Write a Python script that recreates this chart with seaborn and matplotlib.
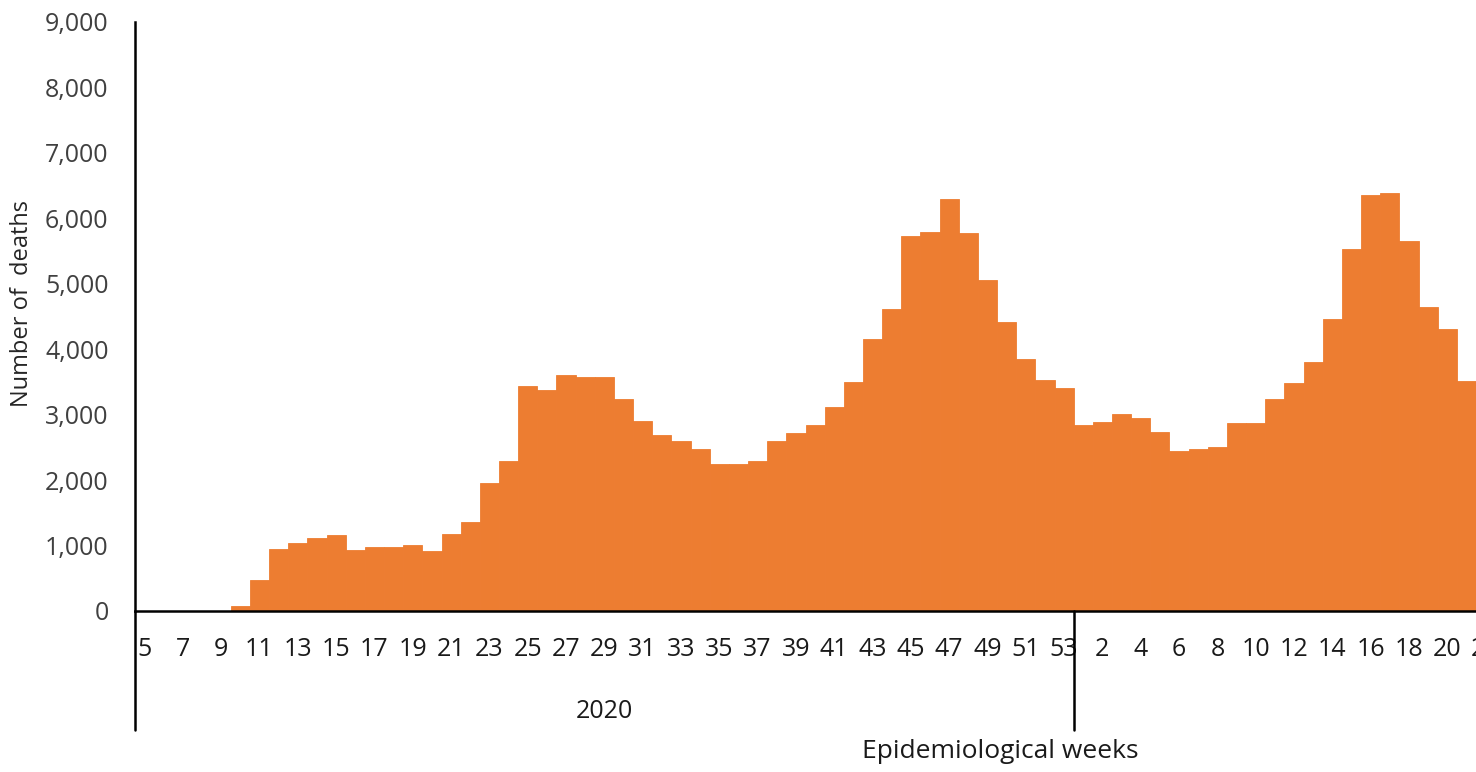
import matplotlib
matplotlib.use("Agg")
import matplotlib.pyplot as plt
import matplotlib.transforms as mtransforms
import seaborn as sns
import numpy as np
import pandas as pd


WEEKS_2020 = list(range(5, 54))
WEEKS_2021 = list(range(1, 22))
# axis categories run one week past the visible data (the chart is cut at the right)
AXIS_WEEKS = WEEKS_2020 + list(range(1, 23))

DEATHS_2020 = [
    0, 0, 0, 0, 0, 80, 475, 950, 1045, 1110,
    1157, 937, 983, 983, 1005, 915, 1177, 1353, 1961, 2297,
    3438, 3372, 3606, 3571, 3568, 3233, 2908, 2684, 2600, 2471,
    2248, 2248, 2295, 2603, 2715, 2842, 3122, 3500, 4157, 4620,
    5735, 5796, 6300, 5781, 5058, 4421, 3846, 3525, 3413,
]
DEATHS_2021 = [
    2842, 2883, 3010, 2954, 2730, 2450, 2471, 2511, 2868, 2868,
    3240, 3479, 3810, 4467, 5536, 6352, 6393, 5650, 4641, 4309,
    3520,
]
YEAR_LABEL = "2020"
ORANGE = "#ED7D31"

df = pd.DataFrame(
    {
        "pos": np.arange(len(DEATHS_2020) + len(DEATHS_2021)),
        "deaths": DEATHS_2020 + DEATHS_2021,
    }
)

sns.set_style("white")
plt.rcParams["font.family"] = ["Open Sans", "DejaVu Sans"]

fig = plt.figure(figsize=(14.76, 7.72), dpi=100)
n_axis = len(AXIS_WEEKS)
bar_px = 1341 / len(df)
ax = fig.add_axes([135 / 1476, 161 / 772, n_axis * bar_px / 1476, 589 / 772])

sns.barplot(
    data=df, x="pos", y="deaths", native_scale=True, width=1,
    color=ORANGE, saturation=1, edgecolor=ORANGE, linewidth=0.6, ax=ax,
)

ax.set_xlim(-0.5, n_axis - 0.5)
ax.set_ylim(0, 9000)
ax.set_yticks(np.arange(0, 9001, 1000))
ax.set_yticklabels([f"{v:,}" for v in range(0, 9001, 1000)])
ax.set_xticks(np.arange(0, n_axis, 2))
ax.set_xticklabels([str(w) for w in AXIS_WEEKS[::2]])
ax.tick_params(axis="y", length=0, pad=19, labelsize=18, labelcolor="#404040")
ax.tick_params(axis="x", length=0, pad=19, labelsize=18, labelcolor="#1a1a1a")
ax.set_xlabel("")
ax.set_ylabel("")

for side in ["top", "right"]:
    ax.spines[side].set_visible(False)
ax.spines["left"].set_linewidth(1.8)
ax.spines["bottom"].set_linewidth(1.8)
ax.spines["left"].set_color("black")
ax.spines["bottom"].set_color("black")

# category group lines below the axis
trans = mtransforms.blended_transform_factory(ax.transData, ax.transAxes)
low = -119 / 589
for xv in [-0.5, len(DEATHS_2020) - 0.5]:
    ax.plot([xv, xv], [0, low], transform=trans, color="black", lw=1.8, clip_on=False)
ax.text((len(DEATHS_2020) - 1) / 2, -100 / 589, YEAR_LABEL, transform=trans,
        ha="center", va="center", fontsize=18, color="#1a1a1a")

fig.text(1000 / 1476, 1 - 752 / 772, "Epidemiological weeks", ha="center",
         va="center", fontsize=19, color="#1a1a1a")
fig.text(22 / 1476, 1 - 303 / 772, "Number of  deaths", ha="center", va="center",
         rotation=90, fontsize=17, color="#262626")

fig.savefig("out.png", dpi=100)
